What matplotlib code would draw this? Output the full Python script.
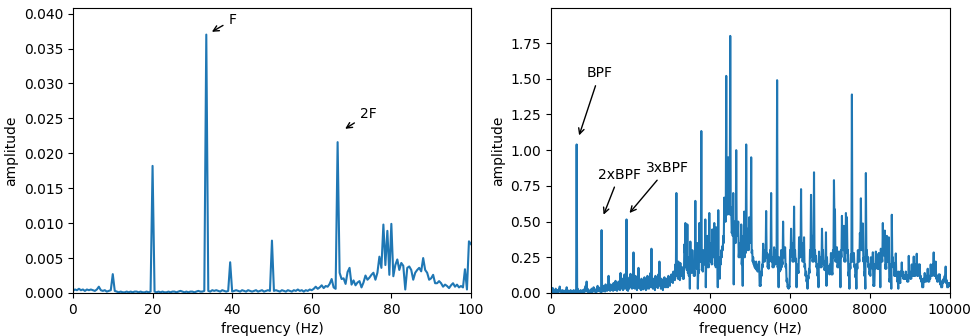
import numpy as np
import matplotlib
matplotlib.use("Agg")
import matplotlib.pyplot as plt

# left panel: shaft-speed spectrum, 0.5 Hz bins from 0 to 100 Hz
low_step = 0.5
low_amp = [
    0.0003, 0.0005, 0.0004, 0.0006, 0.0004, 0.0005, 0.0003, 0.0005, 0.0004, 0.0005,
    0.0004, 0.0003, 0.0005, 0.0009, 0.0004, 0.0003, 0.0004, 0.0002, 0.0003, 0.0004,
    0.0027, 0.0003, 0.0002, 0.0001, 0.0002, 0.0001, 0.0001, 0.0002, 0.0001, 0.0002,
    0.0001, 0.0002, 0.0002, 0.0001, 0.0002, 0.0001, 0.0001, 0.0002, 0.0001, 0.0002,
    0.0182, 0.0002, 0.0001, 0.0002, 0.0001, 0.0002, 0.0001, 0.0001, 0.0002, 0.0001,
    0.0002, 0.0002, 0.0001, 0.0002, 0.0003, 0.0002, 0.0001, 0.0002, 0.0001, 0.0002,
    0.0002, 0.0001, 0.0002, 0.0003, 0.0002, 0.0002, 0.0003, 0.0370, 0.0003, 0.0002,
    0.0004, 0.0003, 0.0004, 0.0003, 0.0002, 0.0004, 0.0003, 0.0002, 0.0003, 0.0044,
    0.0002, 0.0003, 0.0004, 0.0003, 0.0002, 0.0004, 0.0003, 0.0002, 0.0004, 0.0003,
    0.0002, 0.0003, 0.0004, 0.0002, 0.0003, 0.0004, 0.0002, 0.0003, 0.0004, 0.0003,
    0.0075, 0.0003, 0.0004, 0.0003, 0.0002, 0.0004, 0.0003, 0.0002, 0.0004, 0.0003,
    0.0002, 0.0004, 0.0003, 0.0005, 0.0003, 0.0004, 0.0002, 0.0004, 0.0003, 0.0005,
    0.0004, 0.0006, 0.0009, 0.0006, 0.0008, 0.0011, 0.0007, 0.0010, 0.0009, 0.0013,
    0.0020, 0.0008, 0.0006, 0.0216, 0.0029, 0.0020, 0.0021, 0.0013, 0.0030, 0.0036,
    0.0012, 0.0018, 0.0011, 0.0015, 0.0017, 0.0008, 0.0015, 0.0025, 0.0019, 0.0022,
    0.0026, 0.0029, 0.0019, 0.0029, 0.0052, 0.0036, 0.0098, 0.0040, 0.0089, 0.0026,
    0.0099, 0.0024, 0.0040, 0.0048, 0.0033, 0.0043, 0.0039, 0.0005, 0.0036, 0.0038,
    0.0033, 0.0019, 0.0029, 0.0033, 0.0036, 0.0031, 0.0050, 0.0033, 0.0029, 0.0019,
    0.0021, 0.0026, 0.0014, 0.0014, 0.0017, 0.0014, 0.0009, 0.0012, 0.0010, 0.0007,
    0.0011, 0.0014, 0.0009, 0.0012, 0.0008, 0.0010, 0.0008, 0.0034, 0.0005, 0.0074,
    0.0070,
]

# right panel: envelope spectrum, peak in each 25 Hz bin ...
high_step = 25
high_peak = [
    0.03, 0.02, 0.035, 0.015, 0.02, 0.03, 0.01, 0.02, 0.025, 0.045, 0.02, 0.015, 0.02, 0.01, 0.015, 0.02, 0.04, 0.02, 0.01, 0.015,
    0.02, 0.01, 0.015, 0.02, 0.01, 0.02, 1.04, 0.03, 0.01, 0.015, 0.02, 0.01, 0.02, 0.015, 0.03, 0.05, 0.08, 0.03, 0.02, 0.015,
    0.02, 0.03, 0.02, 0.04, 0.025, 0.02, 0.03, 0.05, 0.04, 0.03, 0.02, 0.44, 0.03, 0.05, 0.03, 0.06, 0.04, 0.05, 0.12, 0.04,
    0.06, 0.05, 0.04, 0.07, 0.05, 0.085, 0.03, 0.06, 0.08, 0.04, 0.14, 0.07, 0.1, 0.05, 0.13, 0.08, 0.515, 0.03, 0.07, 0.11,
    0.134, 0.06, 0.1, 0.284, 0.09, 0.12, 0.05, 0.1, 0.176, 0.07, 0.06, 0.1, 0.05, 0.08, 0.11, 0.05, 0.09, 0.12, 0.08, 0.1,
    0.14, 0.31, 0.08, 0.1, 0.06, 0.12, 0.108, 0.09, 0.13, 0.22, 0.08, 0.1, 0.06, 0.09, 0.11, 0.08, 0.1, 0.09, 0.12, 0.1,
    0.11, 0.13, 0.1, 0.15, 0.12, 0.2, 0.70, 0.14, 0.22, 0.12, 0.21, 0.15, 0.18, 0.12, 0.34, 0.49, 0.2, 0.48, 0.16, 0.25,
    0.36, 0.18, 0.3, 0.22, 0.15, 0.645, 0.2, 0.35, 0.16, 0.49, 0.25, 1.134, 0.18, 0.3, 0.22, 0.515, 0.28, 0.4, 0.2, 0.56,
    0.35, 0.25, 0.445, 0.3, 0.49, 0.22, 0.46, 0.35, 0.58, 0.15, 0.25, 0.3, 0.327, 0.4, 0.668, 0.55, 1.52, 0.6, 0.95, 0.65,
    1.80, 0.6, 0.45, 0.70, 0.5, 0.4, 1.00, 0.45, 0.50, 0.3, 0.35, 0.48, 0.25, 0.4, 0.57, 0.3, 1.04, 0.45, 0.35, 0.53,
    0.4, 0.95, 0.3, 0.25, 0.22, 0.2, 0.22, 0.18, 0.2, 0.22, 0.06, 0.15, 0.2, 0.345, 0.25, 0.3, 0.574, 0.28, 0.2, 0.27,
    0.3, 0.70, 0.25, 0.2, 0.32, 0.25, 0.3, 1.49, 0.2, 0.25, 0.18, 0.3, 0.22, 0.50, 0.28, 0.32, 0.2, 0.1, 0.05, 0.05,
    0.3, 0.45, 0.35, 0.25, 0.605, 0.3, 0.24, 0.2, 0.16, 0.39, 0.3, 0.727, 0.35, 0.25, 0.39, 0.2, 0.15, 0.1, 0.12, 0.17,
    0.3, 0.687, 0.4, 0.25, 0.845, 0.3, 0.26, 0.2, 0.15, 0.29, 0.25, 0.2, 0.45, 0.3, 0.22, 0.18, 0.425, 0.25, 0.19, 0.15,
    0.2, 0.28, 0.15, 0.3, 0.79, 0.585, 0.25, 0.32, 0.2, 0.29, 0.2, 0.3, 0.54, 0.35, 0.47, 0.25, 0.56, 0.53, 0.3, 0.15,
    0.2, 0.27, 1.39, 0.25, 0.28, 0.2, 0.13, 0.2, 0.30, 0.25, 0.42, 0.663, 0.35, 0.487, 0.25, 0.15, 0.84, 0.3, 0.252, 0.2,
    0.15, 0.25, 0.2, 0.285, 0.06, 0.2, 0.29, 0.27, 0.2, 0.28, 0.2, 0.31, 0.25, 0.49, 0.3, 0.437, 0.2, 0.40, 0.25, 0.39,
    0.1, 0.2, 0.548, 0.25, 0.21, 0.15, 0.277, 0.15, 0.09, 0.15, 0.09, 0.15, 0.214, 0.15, 0.12, 0.125, 0.15, 0.125, 0.1, 0.26,
    0.15, 0.125, 0.2, 0.15, 0.255, 0.15, 0.2, 0.275, 0.15, 0.2, 0.2, 0.12, 0.1, 0.05, 0.1, 0.14, 0.1, 0.12, 0.17, 0.1,
    0.12, 0.2, 0.15, 0.2, 0.284, 0.15, 0.22, 0.12, 0.1, 0.13, 0.13, 0.08, 0.05, 0.09, 0.1, 0.12, 0.185, 0.09, 0.05, 0.07,
    0.07,
]
# ... and the dip that follows it half a bin later
high_dip = [
    0.01, 0.005, 0.01, 0.005, 0.008, 0.01, 0.004, 0.006, 0.01, 0.012, 0.005, 0.006, 0.004, 0.005, 0.006, 0.008, 0.01, 0.005, 0.004, 0.006,
    0.005, 0.004, 0.006, 0.005, 0.004, 0.008, 0.01, 0.005, 0.004, 0.006, 0.005, 0.004, 0.006, 0.008, 0.01, 0.015, 0.01, 0.008, 0.006, 0.005,
    0.006, 0.008, 0.01, 0.012, 0.008, 0.006, 0.01, 0.015, 0.012, 0.01, 0.008, 0.01, 0.012, 0.015, 0.01, 0.02, 0.015, 0.02, 0.025, 0.015,
    0.02, 0.025, 0.015, 0.02, 0.03, 0.02, 0.015, 0.025, 0.03, 0.02, 0.035, 0.03, 0.02, 0.03, 0.04, 0.03, 0.02, 0.015, 0.03, 0.04,
    0.04, 0.03, 0.035, 0.04, 0.03, 0.04, 0.02, 0.035, 0.05, 0.03, 0.02, 0.04, 0.025, 0.03, 0.04, 0.02, 0.03, 0.045, 0.03, 0.04,
    0.05, 0.04, 0.03, 0.04, 0.02, 0.05, 0.04, 0.035, 0.05, 0.06, 0.03, 0.04, 0.02, 0.04, 0.05, 0.04, 0.05, 0.04, 0.06, 0.05,
    0.08, 0.08, 0.07, 0.1, 0.09, 0.15, 0.12, 0.1, 0.1, 0.09, 0.12, 0.12, 0.1, 0.1, 0.28, 0.18, 0.16, 0.14, 0.12, 0.03,
    0.15, 0.14, 0.2, 0.12, 0.12, 0.18, 0.17, 0.03, 0.14, 0.22, 0.22, 0.16, 0.15, 0.2, 0.2, 0.04, 0.26, 0.18, 0.18, 0.3,
    0.22, 0.2, 0.28, 0.25, 0.2, 0.18, 0.3, 0.04, 0.12, 0.1, 0.2, 0.25, 0.3, 0.35, 0.5, 0.5, 0.55, 0.55, 0.6, 0.55,
    0.55, 0.42, 0.4, 0.06, 0.35, 0.35, 0.4, 0.4, 0.25, 0.25, 0.3, 0.2, 0.05, 0.35, 0.25, 0.28, 0.4, 0.3, 0.3, 0.35,
    0.35, 0.28, 0.22, 0.2, 0.18, 0.17, 0.16, 0.15, 0.18, 0.05, 0.05, 0.12, 0.18, 0.22, 0.22, 0.25, 0.25, 0.18, 0.17, 0.22,
    0.25, 0.22, 0.18, 0.18, 0.22, 0.2, 0.25, 0.18, 0.04, 0.15, 0.16, 0.18, 0.2, 0.25, 0.25, 0.18, 0.08, 0.04, 0.03, 0.04,
    0.25, 0.3, 0.22, 0.22, 0.25, 0.22, 0.04, 0.14, 0.14, 0.25, 0.25, 0.3, 0.22, 0.22, 0.18, 0.12, 0.08, 0.03, 0.1, 0.14,
    0.25, 0.35, 0.22, 0.22, 0.26, 0.22, 0.18, 0.12, 0.04, 0.22, 0.18, 0.18, 0.25, 0.2, 0.16, 0.16, 0.05, 0.16, 0.14, 0.13,
    0.17, 0.13, 0.13, 0.25, 0.5, 0.22, 0.22, 0.18, 0.18, 0.18, 0.04, 0.25, 0.3, 0.3, 0.22, 0.22, 0.45, 0.28, 0.12, 0.03,
    0.17, 0.22, 0.22, 0.22, 0.18, 0.11, 0.03, 0.17, 0.22, 0.22, 0.35, 0.3, 0.3, 0.22, 0.12, 0.03, 0.27, 0.22, 0.18, 0.13,
    0.12, 0.18, 0.17, 0.05, 0.05, 0.17, 0.24, 0.17, 0.17, 0.17, 0.04, 0.22, 0.22, 0.27, 0.26, 0.17, 0.17, 0.22, 0.22, 0.08,
    0.08, 0.03, 0.22, 0.18, 0.12, 0.12, 0.12, 0.08, 0.03, 0.07, 0.07, 0.12, 0.12, 0.1, 0.1, 0.1, 0.1, 0.08, 0.08, 0.12,
    0.1, 0.1, 0.12, 0.12, 0.12, 0.12, 0.17, 0.12, 0.12, 0.17, 0.1, 0.08, 0.04, 0.04, 0.08, 0.08, 0.08, 0.1, 0.08, 0.08,
    0.1, 0.12, 0.12, 0.16, 0.12, 0.12, 0.1, 0.08, 0.08, 0.1, 0.06, 0.04, 0.04, 0.07, 0.08, 0.1, 0.07, 0.04, 0.04, 0.05,
    0.05,
]

# annotations: (label, arrow tip, text position)
low_notes = [("F", (34.3, 0.0372), (39, 0.0385)),
             ("2F", (67.8, 0.0233), (72, 0.025))]
high_notes = [("BPF", (690, 1.085), (900, 1.51)),
              ("2xBPF", (1300, 0.53), (1180, 0.80)),
              ("3xBPF", (1930, 0.545), (2380, 0.845))]

low_freq = np.arange(len(low_amp)) * low_step

# peak then dip inside every bin
bin_start = np.arange(len(high_peak)) * high_step
high_freq = np.column_stack([bin_start, bin_start + high_step / 2]).ravel()
high_amp = np.column_stack([high_peak, high_dip]).ravel()

fig = plt.figure(figsize=(9.73, 3.36), dpi=100)
ax1 = fig.add_axes([0.075, 0.128, 0.409, 0.848])
ax2 = fig.add_axes([0.566, 0.128, 0.410, 0.848])

ax1.plot(low_freq, low_amp, color="C0", lw=1.5)
ax1.set_xlim(0, 100)
ax1.set_ylim(0, 0.0408)
ax1.set_xlabel("frequency (Hz)")
ax1.set_ylabel("amplitude")
for label, tip, txt in low_notes:
    ax1.annotate(label, xy=tip, xytext=txt, arrowprops=dict(arrowstyle="->"))

ax2.plot(high_freq, high_amp, color="C0", lw=1.5)
ax2.set_xlim(0, 10000)
ax2.set_ylim(0, 1.995)
ax2.set_yticks(np.arange(0, 2.0, 0.25))
ax2.set_xlabel("frequency (Hz)")
ax2.set_ylabel("amplitude")
for label, tip, txt in high_notes:
    ax2.annotate(label, xy=tip, xytext=txt, arrowprops=dict(arrowstyle="->"))

fig.savefig("out.png", dpi=100)
